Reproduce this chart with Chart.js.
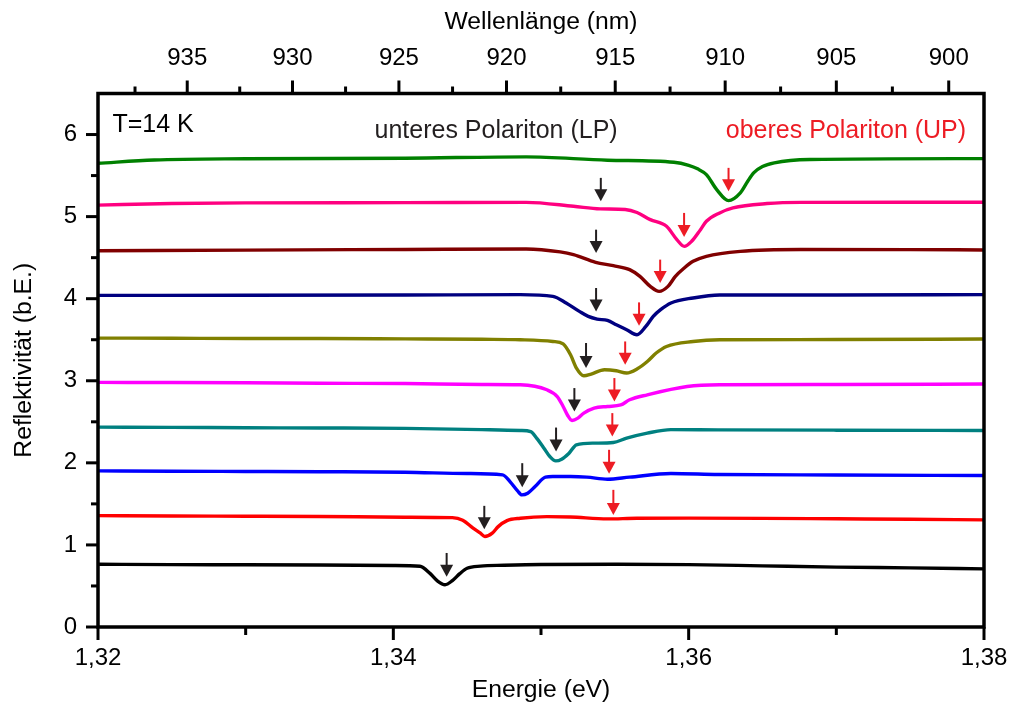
<!DOCTYPE html>
<html><head><meta charset="utf-8">
<script src="https://cdn.jsdelivr.net/npm/chart.js@4/dist/chart.umd.min.js"></script>
<style>html,body{margin:0;padding:0;background:#fff;}#wrap{width:1011px;height:707px;}</style>
</head><body><div id="wrap"><canvas id="c" width="1011" height="707"></canvas></div>
<script>
// ---- data (energy in eV, reflectivity in arb. units) ----
const energyGreen = [1.3200,1.3238,1.3300,1.3408,1.3490,1.3545,1.3590,1.3600,1.3606,1.3612,1.3619,1.3627,1.3635,1.3640,1.3644,1.3650,1.3658,1.3682,1.3800];
const reflGreen   = [5.650,5.690,5.705,5.712,5.728,5.687,5.662,5.625,5.582,5.512,5.329,5.195,5.289,5.431,5.533,5.610,5.655,5.695,5.707];

const energyPink = [1.3200,1.3250,1.3300,1.3408,1.3490,1.3522,1.3540,1.3557,1.3565,1.3574,1.3585,1.3592,1.3597,1.3602,1.3608,1.3612,1.3621,1.3630,1.3653,1.3676,1.3800];
const reflPink   = [5.140,5.160,5.167,5.170,5.174,5.126,5.094,5.086,5.050,4.963,4.882,4.720,4.638,4.699,4.841,4.943,5.045,5.106,5.159,5.174,5.175];

const energyDarkRed = [1.3200,1.3300,1.3408,1.3490,1.3513,1.3522,1.3537,1.3549,1.3560,1.3567,1.3574,1.3580,1.3586,1.3591,1.3597,1.3603,1.3612,1.3635,1.3676,1.3750,1.3800];
const reflDarkRed   = [4.585,4.592,4.600,4.606,4.570,4.537,4.443,4.402,4.354,4.272,4.150,4.089,4.150,4.272,4.374,4.455,4.516,4.577,4.600,4.598,4.594];

const energyNavy = [1.3200,1.3300,1.3408,1.3486,1.3508,1.3517,1.3526,1.3532,1.3538,1.3545,1.3551,1.3558,1.3565,1.3571,1.3576,1.3581,1.3588,1.3603,1.3621,1.3700,1.3800];
const reflNavy   = [4.040,4.042,4.045,4.049,4.028,3.948,3.845,3.784,3.752,3.735,3.683,3.622,3.561,3.662,3.784,3.866,3.948,4.009,4.045,4.045,4.050];

const energyOlive = [1.3200,1.3250,1.3300,1.3350,1.3408,1.3460,1.3486,1.3508,1.3515,1.3520,1.3524,1.3529,1.3534,1.3543,1.3551,1.3558,1.3565,1.3572,1.3578,1.3585,1.3603,1.3621,1.3700,1.3800];
const reflOlive   = [3.520,3.518,3.515,3.515,3.510,3.505,3.500,3.479,3.450,3.317,3.155,3.061,3.082,3.134,3.122,3.094,3.143,3.235,3.338,3.418,3.479,3.500,3.502,3.508];

const energyMagenta = [1.3200,1.3250,1.3300,1.3350,1.3408,1.3460,1.3486,1.3504,1.3511,1.3515,1.3518,1.3521,1.3525,1.3529,1.3536,1.3545,1.3554,1.3560,1.3572,1.3599,1.3621,1.3700,1.3800];
const reflMagenta   = [2.980,2.978,2.975,2.970,2.966,2.955,2.951,2.890,2.808,2.687,2.580,2.516,2.545,2.606,2.667,2.687,2.705,2.768,2.829,2.930,2.951,2.955,2.960];

const energyTeal = [1.3200,1.3250,1.3300,1.3350,1.3408,1.3460,1.3486,1.3493,1.3497,1.3502,1.3506,1.3510,1.3514,1.3519,1.3524,1.3536,1.3549,1.3558,1.3572,1.3588,1.3620,1.3700,1.3800];
const reflTeal   = [2.435,2.432,2.428,2.425,2.420,2.405,2.394,2.380,2.301,2.179,2.077,2.024,2.045,2.118,2.220,2.240,2.248,2.301,2.362,2.405,2.402,2.398,2.394];

const energyBlue = [1.3200,1.3250,1.3300,1.3350,1.3408,1.3450,1.3474,1.3479,1.3484,1.3487,1.3491,1.3496,1.3503,1.3508,1.3520,1.3531,1.3545,1.3560,1.3588,1.3620,1.3700,1.3800];
const reflBlue   = [1.902,1.898,1.895,1.892,1.886,1.870,1.854,1.772,1.662,1.610,1.630,1.711,1.826,1.833,1.833,1.826,1.801,1.826,1.870,1.858,1.852,1.845];

const energyRed = [1.3200,1.3250,1.3300,1.3350,1.3408,1.3440,1.3447,1.3454,1.3459,1.3462,1.3467,1.3471,1.3477,1.3486,1.3504,1.3520,1.3545,1.3565,1.3600,1.3650,1.3700,1.3750,1.3800];
const reflRed   = [1.357,1.352,1.350,1.347,1.338,1.332,1.300,1.205,1.143,1.102,1.143,1.223,1.296,1.325,1.345,1.340,1.317,1.325,1.326,1.324,1.318,1.312,1.305];

const energyBlack = [1.3200,1.3250,1.3300,1.3350,1.3400,1.3418,1.3425,1.3430,1.3435,1.3440,1.3445,1.3450,1.3459,1.3475,1.3500,1.3550,1.3600,1.3650,1.3700,1.3750,1.3800];
const reflBlack   = [0.764,0.760,0.758,0.755,0.750,0.740,0.650,0.560,0.515,0.565,0.650,0.715,0.742,0.752,0.762,0.765,0.760,0.745,0.730,0.720,0.708];

// arrows: LP (black) and UP (red) markers: energy, top of arrow, tip of arrow
const lpArrowEnergy = [1.34361,1.34616,1.34873,1.35102,1.35226,1.35305,1.35373,1.35373,1.35405];
const lpArrowTop    = [0.902,1.476,1.996,2.430,2.911,3.460,4.130,4.841,5.472];
const lpArrowTip    = [0.613,1.191,1.704,2.138,2.626,3.155,3.845,4.557,5.187];
const upArrowEnergy = [1.35490,1.35461,1.35483,1.35497,1.35570,1.35664,1.35807,1.35969,1.36270];
const upArrowTop    = [1.671,2.159,2.606,3.033,3.479,3.955,4.476,5.045,5.594];
const upArrowTip    = [1.366,1.866,2.321,2.748,3.195,3.671,4.191,4.752,5.309];

// ticks
const xMajorTicks = [1.32,1.34,1.36,1.38];
const xMinorTicks = [1.33,1.35,1.37];
const yMajorTicks = [0,1,2,3,4,5,6];
const yMinorTicks = [0.5,1.5,2.5,3.5,4.5,5.5];
const wlMajorTicks = [935,930,925,920,915,910,905,900];
const wlMinorTicks = [937.5,932.5,927.5,922.5,917.5,912.5,907.5,902.5];
const HC = 1239.85; // eV*nm

// text labels
const labelTexts  = ['T=14 K','unteres Polariton (LP)','oberes Polariton (UP)'];
const labelEnergy = [1.32098,1.34696,1.37065];
const labelRefl   = [6.11,6.037,6.037];
const labelAlign  = ['left','center','center'];
const labelColors = ['#000000','#231f20','#ed1c24'];

const FONT = '"Liberation Sans", Arial, Helvetica, sans-serif';
Chart.defaults.font.family = FONT;
Chart.defaults.color = '#000';

const series = [
  [energyGreen, reflGreen, '#008000'],
  [energyPink, reflPink, '#ff0080'],
  [energyDarkRed, reflDarkRed, '#800000'],
  [energyNavy, reflNavy, '#000080'],
  [energyOlive, reflOlive, '#808000'],
  [energyMagenta, reflMagenta, '#ff00ff'],
  [energyTeal, reflTeal, '#008080'],
  [energyBlue, reflBlue, '#0000ff'],
  [energyRed, reflRed, '#ff0000'],
  [energyBlack, reflBlack, '#000000']
];
const datasets = series.map(([e, r, c]) => ({
  data: e.map((v, i) => ({x: v, y: r[i]})),
  borderColor: c, borderWidth: 3.4, pointRadius: 0, fill: false,
  cubicInterpolationMode: 'monotone', clip: 2
}));

const deco = {
  id: 'deco',
  afterDatasetsDraw(chart) {
    const ctx = chart.ctx, a = chart.chartArea;
    const xs = chart.scales.x, ys = chart.scales.y;
    ctx.save();
    const drawArrow = (e, top, tip, col) => {
      const px = xs.getPixelForValue(e), pt = ys.getPixelForValue(top), pp = ys.getPixelForValue(tip);
      ctx.strokeStyle = col; ctx.fillStyle = col; ctx.lineWidth = 2;
      ctx.beginPath(); ctx.moveTo(px, pt); ctx.lineTo(px, pp - 10); ctx.stroke();
      ctx.beginPath(); ctx.moveTo(px - 6.5, pp - 12); ctx.lineTo(px + 6.5, pp - 12); ctx.lineTo(px, pp); ctx.closePath(); ctx.fill();
    };
    lpArrowEnergy.forEach((e, i) => drawArrow(e, lpArrowTop[i], lpArrowTip[i], '#231f20'));
    upArrowEnergy.forEach((e, i) => drawArrow(e, upArrowTop[i], upArrowTip[i], '#ed1c24'));
    ctx.font = '25px ' + FONT; ctx.textBaseline = 'middle';
    labelTexts.forEach((t, i) => {
      ctx.fillStyle = labelColors[i]; ctx.textAlign = labelAlign[i];
      ctx.fillText(t, xs.getPixelForValue(labelEnergy[i]), ys.getPixelForValue(labelRefl[i]));
    });
    ctx.strokeStyle = '#000'; ctx.lineWidth = 3.5;
    ctx.strokeRect(a.left, a.top, a.right - a.left, a.bottom - a.top);
    ctx.lineWidth = 3;
    const vt = (x, y0, y1) => { ctx.beginPath(); ctx.moveTo(x, y0); ctx.lineTo(x, y1); ctx.stroke(); };
    const ht = (y, x0, x1) => { ctx.beginPath(); ctx.moveTo(x0, y); ctx.lineTo(x1, y); ctx.stroke(); };
    xMajorTicks.forEach(v => vt(xs.getPixelForValue(v), a.bottom, a.bottom + 13));
    xMinorTicks.forEach(v => vt(xs.getPixelForValue(v), a.bottom, a.bottom + 8));
    yMajorTicks.forEach(v => ht(ys.getPixelForValue(v), a.left, a.left - 12));
    yMinorTicks.forEach(v => ht(ys.getPixelForValue(v), a.left, a.left - 7));
    wlMajorTicks.forEach(l => vt(xs.getPixelForValue(HC / l), a.top, a.top - 13));
    wlMinorTicks.forEach(l => vt(xs.getPixelForValue(HC / l), a.top, a.top - 7));
    ctx.restore();
  }
};

const axisGrid = {display: true, drawOnChartArea: false, drawTicks: false};
const titleFont = {size: 24.7};
new Chart(document.getElementById('c'), {
  type: 'line',
  data: {datasets},
  options: {
    responsive: false, animation: false, devicePixelRatio: 1,
    layout: {padding: {left: 0, right: 27, top: 0, bottom: 0}},
    plugins: {legend: {display: false}, tooltip: {enabled: false}},
    scales: {
      x: {
        type: 'linear', position: 'bottom', min: 1.32, max: 1.38,
        afterBuildTicks: s => { s.ticks = xMajorTicks.map(v => ({value: v})); },
        afterFit: s => { s.height = 80; s.paddingLeft = 0; s.paddingRight = 0; },
        ticks: {font: {size: 24}, color: '#000', padding: 17, maxRotation: 0, autoSkip: false,
                callback: v => v.toFixed(2).replace('.', ',')},
        grid: axisGrid, border: {display: false},
        title: {display: true, text: 'Energie (eV)', font: titleFont, color: '#000', padding: {top: 0, bottom: 1.6}}
      },
      x2: {
        type: 'linear', position: 'top', min: 1.32, max: 1.38,
        afterBuildTicks: s => { s.ticks = wlMajorTicks.map(l => ({value: HC / l})); },
        afterFit: s => { s.height = 93.5; s.paddingLeft = 0; s.paddingRight = 0; },
        ticks: {font: {size: 24}, color: '#000', padding: 21, maxRotation: 0, autoSkip: false,
                callback: (v, i) => String(wlMajorTicks[i])},
        grid: axisGrid, border: {display: false},
        title: {display: true, text: 'Wellenlänge (nm)', font: titleFont, color: '#000', padding: {top: 7.6, bottom: 0}}
      },
      y: {
        type: 'linear', position: 'left', min: 0, max: 6.5,
        afterBuildTicks: s => { s.ticks = yMajorTicks.map(v => ({value: v})); },
        afterFit: s => { s.width = 98; s.paddingTop = 0; s.paddingBottom = 0; },
        ticks: {font: {size: 24}, color: '#000', padding: 21, callback: v => String(v)},
        grid: axisGrid, border: {display: false},
        title: {display: true, text: 'Reflektivität (b.E.)', font: titleFont, color: '#000', padding: {top: 9.6, bottom: 0}}
      }
    }
  },
  plugins: [deco]
});
</script></body></html>
